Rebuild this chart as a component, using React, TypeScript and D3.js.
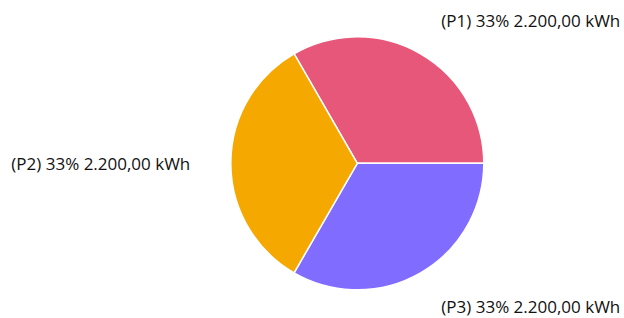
import React, { useEffect, useRef } from "react";
import * as d3 from "d3";

const labels = ["P1", "P2", "P3"];
const values = [2200, 2200, 2200];
const colors = ["#e75779", "#f5a800", "#806cff"];

const W = 624;
const H = 318;

export default function App() {
  const ref = useRef<SVGSVGElement | null>(null);

  useEffect(() => {
    const svg = d3.select(ref.current);
    svg.selectAll("*").remove();

    const cx = 357.3, cy = 163.3, r = 126.5;
    const total = d3.sum(values);

    // order P1 (top right), P3 (bottom right), P2 (left)
    const pie = d3.pie<number>()
      .sort(null)
      .value((d) => values[d])
      .startAngle(-Math.PI / 6)
      .endAngle(2 * Math.PI - Math.PI / 6);
    const arcs = pie([0, 2, 1]);

    const arc = d3.arc<d3.PieArcDatum<number>>().innerRadius(0).outerRadius(r);

    const g = svg.append("g").attr("transform", `translate(${cx},${cy})`);
    g.selectAll("path")
      .data(arcs)
      .enter()
      .append("path")
      .attr("d", arc)
      .attr("fill", (d) => colors[d.data])
      .attr("stroke", "#fff")
      .attr("stroke-width", 1.5);

    const fmt = (v: number) =>
      v.toLocaleString("de-DE", { minimumFractionDigits: 2, maximumFractionDigits: 2 });

    // label anchor points (baseline)
    const pos: Record<number, [number, number, string]> = {
      0: [cx + 84, cy - 136, "start"],
      1: [cx - 167, cy + 6.7, "end"],
      2: [cx + 84, cy + 149.5, "start"],
    };

    svg.selectAll("text.lbl")
      .data(arcs)
      .enter()
      .append("text")
      .attr("class", "lbl")
      .attr("x", (d) => pos[d.data][0])
      .attr("y", (d) => pos[d.data][1])
      .attr("text-anchor", (d) => pos[d.data][2])
      .style("font-family", "'Open Sans', sans-serif")
      .style("font-size", "17px")
      .attr("fill", "#111")
      .text((d) => `(${labels[d.data]}) ${Math.round((values[d.data] / total) * 100)}% ${fmt(values[d.data])} kWh`);
  }, []);

  return (
    <svg
      ref={ref}
      width={W}
      height={H}
      style={{ position: "absolute", left: 0, top: 0, background: "#fff" }}
    />
  );
}
